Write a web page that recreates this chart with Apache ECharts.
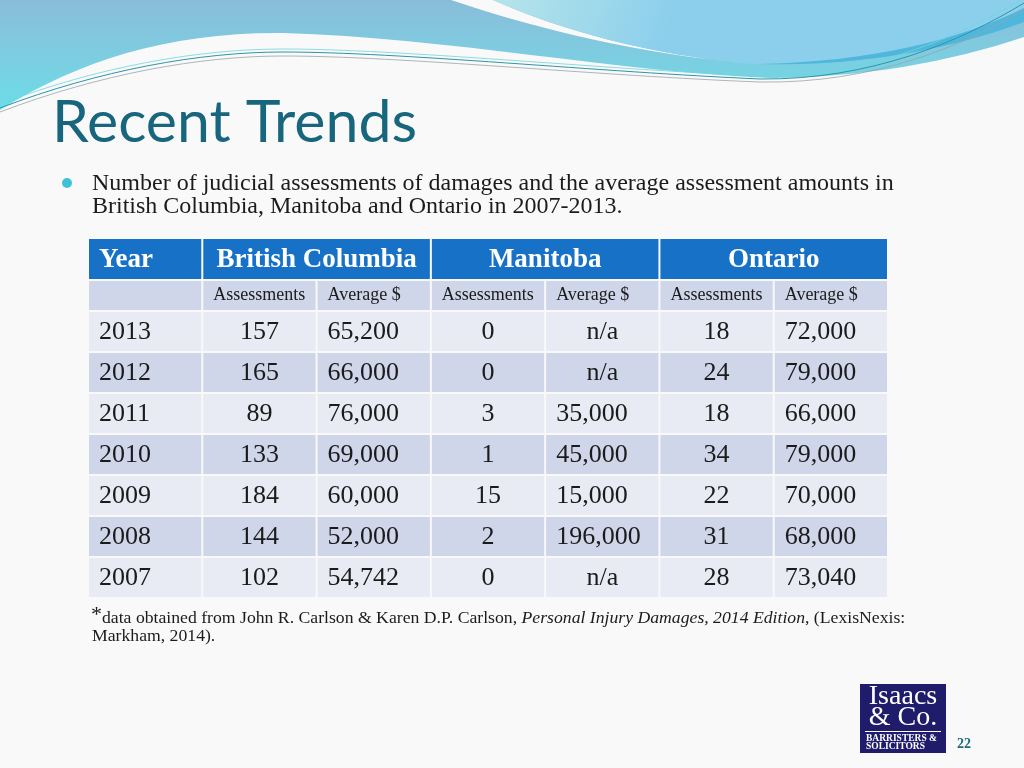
<!DOCTYPE html>
<html><head><meta charset="utf-8">
<script src="https://cdn.jsdelivr.net/npm/echarts@6/dist/echarts.min.js"></script>
<style>html,body{margin:0;padding:0;background:#f9f9f9}#c{width:1024px;height:768px}</style>
</head><body><div id="c"></div>
<script>
// ---- data ----
const years = ['2013', '2012', '2011', '2010', '2009', '2008', '2007'];
const provinces = ['British Columbia', 'Manitoba', 'Ontario'];
const measures = ['Assessments', 'Average $'];
const bcAssessments = [157, 165, 89, 133, 184, 144, 102];
const bcAverage = [65200, 66000, 76000, 69000, 60000, 52000, 54742];
const mbAssessments = [0, 0, 3, 1, 15, 2, 0];
const mbAverage = [null, null, 35000, 45000, 15000, 196000, null];
const onAssessments = [18, 24, 18, 34, 22, 31, 28];
const onAverage = [72000, 79000, 66000, 79000, 70000, 68000, 73040];

const valueCols = [bcAssessments, bcAverage, mbAssessments, mbAverage, onAssessments, onAverage];
const colNames = ['Year'].concat(provinces.flatMap(p => measures.map(m => p + ' ' + m)));

// header cells: [startCol, span, label]
const headerData = [[0, 1, 'Year']].concat(provinces.map((p, i) => [1 + 2 * i, 2, p]));
// sub header cells: [col, label]
const subData = [[0, '']].concat(provinces.flatMap((p, i) => measures.map((m, j) => [1 + 2 * i + j, m])));
// body cells: [col, row, text, kind]
const bodyData = [];
years.forEach((y, r) => {
  bodyData.push([0, r, y, 'year']);
  valueCols.forEach((arr, i) => {
    const c = i + 1, v = arr[r], isAvg = (c % 2 === 0);
    if (v == null) bodyData.push([c, r, 'n/a', 'center']);
    else if (isAvg) bodyData.push([c, r, v.toLocaleString('en-US'), 'left']);
    else bodyData.push([c, r, String(v), 'center']);
  });
});

// ---- styles ----
const BG = '#f9f9f9';
const HEAD = '#1772c7', LIGHT = '#e8eaf4', DARK = '#cfd6ea', INK = '#1b1b1b';
const SERIF = '"Liberation Serif", "DejaVu Serif", serif';
const GRID = {left: 88, width: 800};

function cellRect(x, y, w, h, fill) {
  return {type: 'rect', shape: {x: x + 1, y: y + 1, width: w - 2, height: h - 2}, style: {fill: fill}};
}

const decoPaths = [
  {d: 'M0,0 L1024,0 L1024,37 C950,62 860,78 770,78 C620,72 450,38 283,33 C170,32 80,60 0,110 Z',
   fill: {type: 'linear', x: 0, y: 0, x2: 0, y2: 1, colorStops: [{offset: 0, color: '#89bdd9'}, {offset: 0.45, color: '#7fcbe0'}, {offset: 1, color: '#6bdde6'}]}},
  {d: 'M451,0 L493,0 C560,30 650,55 753,64 C640,54 540,30 451,0 Z', fill: BG},
  {d: 'M493,0 L1024,0 L1024,8 C960,40 870,62 753,64 C650,55 560,30 493,0 Z',
   fill: {type: 'linear', x: 0, y: 0, x2: 0.3, y2: 1, colorStops: [{offset: 0, color: '#b6e5ea'}, {offset: 1, color: '#8ccfec'}]}},
  {d: 'M1024,8 C960,40 870,62 760,64 C880,67 970,42 1024,22 Z', fill: '#4fb6dc'},
  {d: 'M0,108 C100,70 200,52 283,52 C400,52 600,72 760,79 C870,80 960,42 1024,3', stroke: '#2f95aa', lw: 1},
  {d: 'M0,112 C100,74 200,56 283,56 C400,56 600,76 760,82 C872,84 965,46 1024,9', stroke: '#9aa3aa', lw: 0.8},
  {d: 'M0,104 C100,66 200,49 283,49 C400,49 600,69 760,76 C868,77 956,38 1024,-2', stroke: '#6fd6dc', lw: 0.8}
];

const chart = echarts.init(document.getElementById('c'), null, {renderer: 'canvas'});
const catX = i => ({type: 'category', gridIndex: i, data: colNames, show: false});

chart.setOption({
  backgroundColor: BG,
  animation: false,
  grid: [
    Object.assign({top: 238, height: 42}, GRID),
    Object.assign({top: 280, height: 31}, GRID),
    Object.assign({top: 311, height: 287}, GRID)
  ],
  xAxis: [catX(0), catX(1), catX(2)],
  yAxis: [
    {type: 'category', gridIndex: 0, data: ['header'], show: false},
    {type: 'category', gridIndex: 1, data: ['sub'], show: false},
    {type: 'category', gridIndex: 2, data: years, inverse: true, show: false}
  ],
  series: [
    {
      type: 'custom', coordinateSystem: 'none', silent: true, data: [0],
      renderItem: function () {
        return {type: 'group', children: decoPaths.map(p => ({
          type: 'path', shape: {pathData: p.d},
          style: p.stroke ? {fill: 'none', stroke: p.stroke, lineWidth: p.lw} : {fill: p.fill}
        }))};
      }
    },
    {
      type: 'custom', xAxisIndex: 0, yAxisIndex: 0,
      data: headerData.map(d => [d[0], 0]),
      renderItem: function (params, api) {
        const d = headerData[params.dataIndex];
        const c = api.coord([d[0], 0]);
        const s = api.size([1, 1]);
        const x0 = c[0] - s[0] / 2, y0 = c[1] - s[1] / 2, w = s[0] * d[1];
        const left = d[0] === 0;
        return {type: 'group', children: [
          cellRect(x0, y0, w, s[1], HEAD),
          {type: 'text', style: {text: d[2], x: left ? x0 + 11 : x0 + w / 2, y: c[1] + 1,
            align: left ? 'left' : 'center', verticalAlign: 'middle',
            font: 'bold 27px ' + SERIF, fill: '#ffffff'}}
        ]};
      }
    },
    {
      type: 'custom', xAxisIndex: 1, yAxisIndex: 1,
      data: subData.map(d => [d[0], 0]),
      renderItem: function (params, api) {
        const d = subData[params.dataIndex];
        const c = api.coord([d[0], 0]);
        const s = api.size([1, 1]);
        const x0 = c[0] - s[0] / 2, y0 = c[1] - s[1] / 2;
        return {type: 'group', children: [
          cellRect(x0, y0, s[0], s[1], DARK),
          {type: 'text', style: {text: d[1], x: x0 + 11, y: c[1],
            align: 'left', verticalAlign: 'middle', font: '18px ' + SERIF, fill: INK}}
        ]};
      }
    },
    {
      type: 'custom', xAxisIndex: 2, yAxisIndex: 2,
      data: bodyData.map(d => [d[0], d[1]]),
      renderItem: function (params, api) {
        const d = bodyData[params.dataIndex];
        const c = api.coord([d[0], d[1]]);
        const s = api.size([1, 1]);
        const x0 = c[0] - s[0] / 2, y0 = c[1] - s[1] / 2;
        const fill = d[1] % 2 === 0 ? LIGHT : DARK;
        const center = d[3] === 'center';
        return {type: 'group', children: [
          cellRect(x0, y0, s[0], s[1], fill),
          {type: 'text', style: {text: d[2], x: center ? c[0] : x0 + 11, y: c[1] + 1,
            align: center ? 'center' : 'left', verticalAlign: 'middle',
            font: '26px ' + SERIF, fill: INK}}
        ]};
      }
    }
  ],
  graphic: [
    // title
    {type: 'text', style: {text: 'Recent Trends', x: 52, y: 123, align: 'left', verticalAlign: 'middle',
      font: '59px Lato, "Open Sans", sans-serif', fill: '#17667e'}},
    // bullet
    {type: 'circle', shape: {cx: 67, cy: 183, r: 5}, style: {fill: '#3fc1d8'}},
    {type: 'text', style: {text: 'Number of judicial assessments of damages and the average assessment amounts in',
      x: 92, y: 184, align: 'left', verticalAlign: 'middle', font: '24px ' + SERIF, fill: INK}},
    {type: 'text', style: {text: 'British Columbia, Manitoba and Ontario in 2007-2013.',
      x: 92, y: 207, align: 'left', verticalAlign: 'middle', font: '24px ' + SERIF, fill: INK}},
    // footnote
    {type: 'text', style: {
      text: '{a|*}{b|data obtained from John R. Carlson & Karen D.P. Carlson, }{i|Personal Injury Damages, 2014 Edition}{b|, (LexisNexis:}',
      x: 91, y: 618, align: 'left', verticalAlign: 'middle',
      rich: {
        a: {font: '22px ' + SERIF, fill: INK, verticalAlign: 'top', padding: [0, 0, 6, 0]},
        b: {font: '17.7px ' + SERIF, fill: INK},
        i: {font: 'italic 17.7px ' + SERIF, fill: INK}
      }}},
    {type: 'text', style: {text: 'Markham, 2014).', x: 92, y: 636, align: 'left', verticalAlign: 'middle',
      font: '17.7px ' + SERIF, fill: INK}},
    // logo
    {type: 'rect', shape: {x: 860, y: 684, width: 86, height: 69}, style: {fill: '#1f1c6c'}},
    {type: 'text', style: {text: 'Isaacs', x: 903, y: 697, align: 'center', verticalAlign: 'middle', font: '28px ' + SERIF, fill: '#ffffff'}},
    {type: 'text', style: {text: '& Co.', x: 903, y: 718, align: 'center', verticalAlign: 'middle', font: '28px ' + SERIF, fill: '#ffffff'}},
    {type: 'rect', shape: {x: 865, y: 731, width: 76, height: 1}, style: {fill: '#ffffff'}},
    {type: 'text', style: {text: 'BARRISTERS &', x: 866, y: 739, align: 'left', verticalAlign: 'middle', font: 'bold 9.5px ' + SERIF, fill: '#ffffff'}},
    {type: 'text', style: {text: 'SOLICITORS', x: 866, y: 747, align: 'left', verticalAlign: 'middle', font: 'bold 9.5px ' + SERIF, fill: '#ffffff'}},
    // page number
    {type: 'text', style: {text: '22', x: 957, y: 744, align: 'left', verticalAlign: 'middle', font: 'bold 14px ' + SERIF, fill: '#1c6b80'}}
  ]
});
</script>
</body></html>
